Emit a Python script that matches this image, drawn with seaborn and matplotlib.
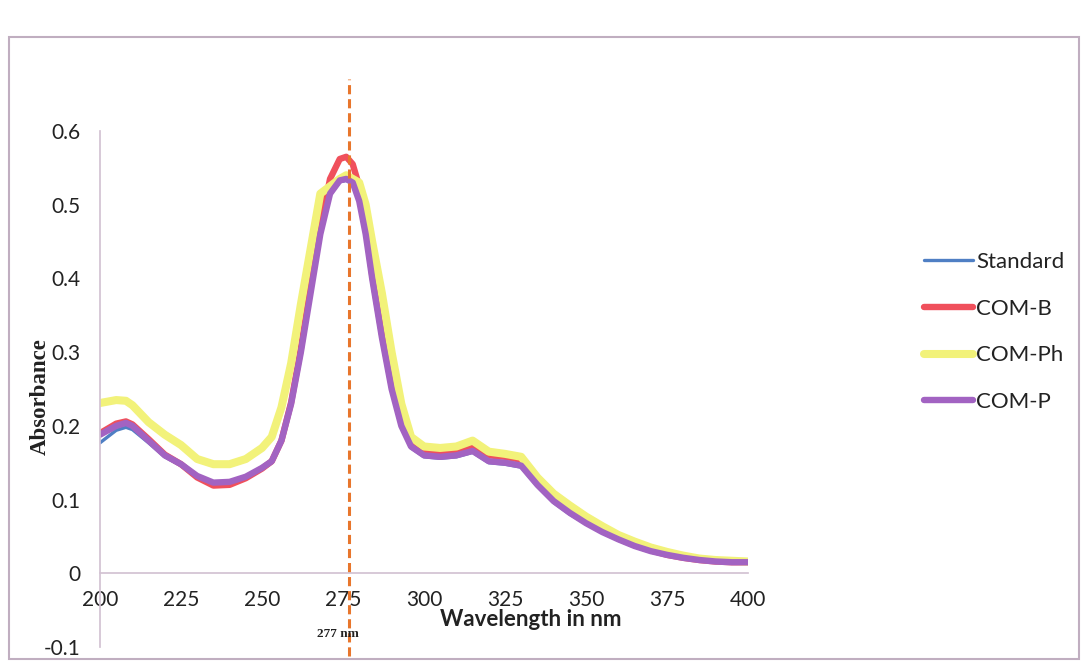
import numpy as np
import pandas as pd
import seaborn as sns
import matplotlib
matplotlib.use("Agg")
import matplotlib.pyplot as plt
from matplotlib.patches import Rectangle

# wavelengths (nm) shared by all four spectra
wavelength = [200, 205, 208, 210, 215, 220, 225, 230, 235, 240, 245, 250, 253, 256,
              259, 262, 265, 268, 271, 274, 276, 278, 280, 282, 284, 287, 290, 293,
              296, 300, 305, 310, 315, 320, 325, 330, 335, 340, 345, 350, 355, 360,
              365, 370, 375, 380, 385, 390, 395, 400]

standard = [0.177, 0.194, 0.198, 0.195, 0.177, 0.158, 0.146, 0.130, 0.121, 0.122,
            0.129, 0.141, 0.150, 0.178, 0.228, 0.298, 0.378, 0.458, 0.513, 0.531,
            0.533, 0.528, 0.503, 0.458, 0.398, 0.318, 0.248, 0.198, 0.170, 0.158,
            0.156, 0.158, 0.164, 0.150, 0.148, 0.144, 0.118, 0.096, 0.080, 0.067,
            0.055, 0.045, 0.036, 0.029, 0.024, 0.020, 0.017, 0.015, 0.014, 0.014]

com_b = [0.190, 0.203, 0.206, 0.202, 0.182, 0.161, 0.148, 0.130, 0.119, 0.120,
         0.129, 0.142, 0.152, 0.180, 0.232, 0.305, 0.390, 0.470, 0.535, 0.562,
         0.565, 0.555, 0.525, 0.470, 0.405, 0.325, 0.255, 0.205, 0.178, 0.167,
         0.165, 0.167, 0.174, 0.160, 0.158, 0.154, 0.126, 0.102, 0.085, 0.070,
         0.058, 0.047, 0.038, 0.031, 0.025, 0.021, 0.018, 0.016, 0.015, 0.015]

com_ph = [0.231, 0.235, 0.234, 0.228, 0.205, 0.188, 0.174, 0.155, 0.148, 0.148,
          0.155, 0.170, 0.185, 0.225, 0.285, 0.365, 0.440, 0.515, 0.525, 0.535,
          0.540, 0.535, 0.530, 0.500, 0.450, 0.380, 0.300, 0.230, 0.185, 0.172,
          0.170, 0.172, 0.180, 0.165, 0.162, 0.158, 0.130, 0.108, 0.092, 0.077,
          0.064, 0.052, 0.043, 0.035, 0.029, 0.024, 0.020, 0.018, 0.017, 0.016]

com_p = [0.188, 0.200, 0.204, 0.200, 0.180, 0.160, 0.148, 0.132, 0.123, 0.124,
         0.131, 0.143, 0.152, 0.180, 0.230, 0.300, 0.380, 0.460, 0.515, 0.533,
         0.535, 0.530, 0.505, 0.460, 0.400, 0.320, 0.250, 0.200, 0.172, 0.160,
         0.158, 0.160, 0.166, 0.152, 0.150, 0.146, 0.120, 0.098, 0.082, 0.068,
         0.056, 0.046, 0.037, 0.030, 0.025, 0.021, 0.018, 0.016, 0.015, 0.015]

series_names = ["Standard", "COM-B", "COM-Ph", "COM-P"]
series_colors = ["#4f7fc4", "#f0505c", "#f2f27a", "#a263c2"]
series_widths = [2.4, 4.6, 5.8, 4.6]

x_ticks = [200, 225, 250, 275, 300, 325, 350, 375, 400]
y_ticks = [-0.1, 0, 0.1, 0.2, 0.3, 0.4, 0.5, 0.6]
peak_nm = 277

sns.set_theme(style="white")
plt.rcParams['font.family'] = ['Lato', 'DejaVu Sans']

W, H = 1082, 664
fig = plt.figure(figsize=(W / 100, H / 100), dpi=100)
ax = fig.add_axes([100 / W, 17 / H, 648 / W, 516 / H])

df = pd.DataFrame({"wavelength": wavelength, "Standard": standard,
                   "COM-B": com_b, "COM-Ph": com_ph, "COM-P": com_p})

for name, col, lw in zip(series_names, series_colors, series_widths):
    sns.lineplot(data=df, x="wavelength", y=name, ax=ax, color=col, lw=lw,
                 label=name, solid_capstyle="round", solid_joinstyle="round")

# dashed marker at absorbance maximum
ax.plot([peak_nm, peak_nm], [-0.112, 0.67], color="#e8762c", lw=2.2,
        linestyle=(0, (3, 1.6)), clip_on=False, zorder=5)

ax.set_xlim(200, 400)
ax.set_ylim(-0.1, 0.6)
ax.set_xticks(x_ticks)
ax.set_yticks(y_ticks)
ax.set_yticklabels(["-0.1", "0", "0.1", "0.2", "0.3", "0.4", "0.5", "0.6"])
ax.set_xlabel("")
ax.set_ylabel("")

axis_col = "#d3c3d3"
for s in ["top", "right"]:
    ax.spines[s].set_visible(False)
ax.spines["left"].set_color(axis_col)
ax.spines["bottom"].set_color(axis_col)
ax.spines["bottom"].set_position(("data", 0))
ax.tick_params(axis="x", direction="inout", length=6, color=axis_col, width=1,
               pad=9, labelsize=15, labelcolor="#222222")
ax.tick_params(axis="y", direction="out", length=5, color=axis_col, width=1,
               pad=9, labelsize=15, labelcolor="#222222")
ax.set_facecolor("white")

fig.text(40 / W, 1 - 397 / H, "Absorbance", rotation=90, ha="center", va="center",
         fontsize=16.5, fontweight="bold", family=["Liberation Serif", "DejaVu Serif"],
         color="#222222")
fig.text(531 / W, 1 - 619 / H, "Wavelength in nm", ha="center", va="center",
         fontsize=16, fontweight="bold", color="#222222")
fig.text(338 / W, 1 - 634 / H, "277 nm", ha="center", va="center",
         fontsize=9.5, fontweight="bold", family=["Liberation Serif", "DejaVu Serif"],
         color="#222222")

leg = ax.legend(loc="upper left", bbox_to_anchor=(904 / W, 1 - 232 / H),
                bbox_transform=fig.transFigure, frameon=False, fontsize=16,
                handlelength=2.2, handletextpad=0.15, labelspacing=1.2)
for t in leg.get_texts():
    t.set_color("#222222")

fig.patches.append(Rectangle((9 / W, 5 / H), 1070 / W, 622 / H, fill=False,
                             edgecolor="#c0aec0", lw=1.5,
                             transform=fig.transFigure, figure=fig))

fig.savefig("out.png", dpi=100, facecolor="white")
